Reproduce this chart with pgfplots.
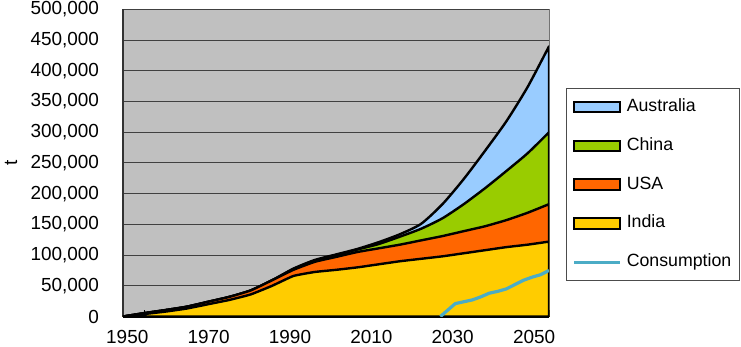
\documentclass[border=0pt]{standalone}
\usepackage{fontspec}
\setmainfont{Liberation Sans}
\usepackage{pgfplots}
\usepackage{pgfplotstable}
\pgfplotsset{compat=1.18}
\definecolor{bgray}{RGB}{192,192,192}
\definecolor{aus}{RGB}{153,204,255}
\definecolor{chn}{RGB}{153,204,0}
\definecolor{usa}{RGB}{255,102,0}
\definecolor{ind}{RGB}{255,204,0}
\definecolor{cons}{RGB}{75,172,198}

% cumulative tops of the stacked areas (t)
\pgfplotstableread{
year indiatop usatop chinatop total
1950 0 0 0 0
1955 4000 5500 5500 5500
1960 8000 10500 10500 10500
1965 13000 16000 16000 16000
1970 20000 24000 24000 24000
1975 27000 32000 32000 32000
1980 36000 42500 42500 42500
1985 50000 59000 59000 59000
1990 66000 76000 77000 78000
1995 72500 89000 91000 92000
2000 76000 97000 100000 101000
2005 80000 105000 109000 110000
2010 85000 111000 118000 121000
2015 90000 117000 130000 134000
2020 94000 124000 143000 151000
2025 98000 131000 160000 183000
2030 103000 139000 183000 224000
2035 108000 147000 209000 270000
2040 113000 157000 237000 318000
2045 117000 169000 266000 374000
2050 122000 183000 300000 440000
}\cumdata

\pgfplotstableread{
year cons
2024.5 0
2028 21000
2030 24000
2032 27000
2034 32000
2036 38000
2038 41000
2040 45000
2042 52000
2044 59000
2046 64000
2048 68000
2050 75000
}\consdata

\pgfplotsset{boxleg/.style={legend image code/.code={\draw[fill=#1,draw=black,line width=1bp] (0bp,-2.6bp) rectangle (23bp,2.6bp);}}}

\begin{document}
\begin{tikzpicture}
\begin{axis}[
  scale only axis, width=213bp, height=153.5bp,
  xmin=1950, xmax=2050, ymin=0, ymax=500000,
  /pgf/number format/assume math mode=true,
  axis background/.style={fill=bgray, draw=black!55},
  axis x line*=bottom, axis y line*=left,
  x axis line style={black, line width=1.2bp, -},
  y axis line style={black!80, line width=0.8bp, -},
  ytick={0,50000,...,500000},
  scaled y ticks=false,
  yticklabel style={/pgf/number format/fixed, /pgf/number format/1000 sep={,}, xshift=-8.5bp},
  ymajorgrids, major grid style={black!75, line width=0.5bp},
  xtick={1951,1970.1,1989.2,2008.3,2027.4,2046.5},
  xticklabels={1950,1970,1990,2010,2030,2050},
  x tick label style={yshift=-3.3bp},
  minor xtick={1950,1955,...,2050},
  major tick length=0pt, minor tick length=3bp,
  tick align=inside,
  minor tick style={black, line width=0.7bp},
  tick label style={font=\fontsize{9.5}{11}\selectfont},
  ylabel={t},
  ylabel style={at={(rel axis cs:-0.263,0.5)}, anchor=center, font=\fontsize{9.5}{11}\selectfont},
  legend cell align=left,
  legend style={at={(1.0399,0.744)}, anchor=north west, draw=black!70, line width=0.6bp, fill=white,
    font=\fontsize{8.9}{10}\selectfont, row sep=9.1bp, column sep=1.5bp,
    inner xsep=3bp, inner ysep=4bp,
    nodes={inner sep=1bp, text height=6.4bp, text depth=1.9bp}},
]
\coordinate (sw) at (rel axis cs:0,0);
\coordinate (ne) at (rel axis cs:1,1);

\addlegendimage{boxleg=aus}\addlegendentry{Australia}
\addlegendimage{boxleg=chn}\addlegendentry{China}
\addlegendimage{boxleg=usa}\addlegendentry{USA}
\addlegendimage{boxleg=ind}\addlegendentry{India}
\addlegendimage{legend image code/.code={\draw[cons,line width=1.6bp] (0bp,0bp) -- (23bp,0bp);}}\addlegendentry{Consumption}

\addplot[fill=aus, draw=black, line width=1.2bp, line join=round, smooth, tension=0.4, forget plot] table[x=year,y=total]{\cumdata} \closedcycle;
\addplot[fill=chn, draw=black, line width=1.2bp, line join=round, smooth, tension=0.4, forget plot] table[x=year,y=chinatop]{\cumdata} \closedcycle;
\addplot[fill=usa, draw=black, line width=1.2bp, line join=round, smooth, tension=0.3, forget plot] table[x=year,y=usatop]{\cumdata} \closedcycle;
\addplot[fill=ind, draw=black, line width=1.2bp, line join=round, smooth, tension=0.25, forget plot] table[x=year,y=indiatop]{\cumdata} \closedcycle;
\addplot[cons, line width=1.6bp, line join=round, forget plot] table[x=year,y=cons]{\consdata};
\end{axis}
\pgfresetboundingbox
\path ([shift={(-61.5bp,-15.25bp)}]sw) rectangle ([shift={(96bp,4.75bp)}]ne);
\end{tikzpicture}
\end{document}
